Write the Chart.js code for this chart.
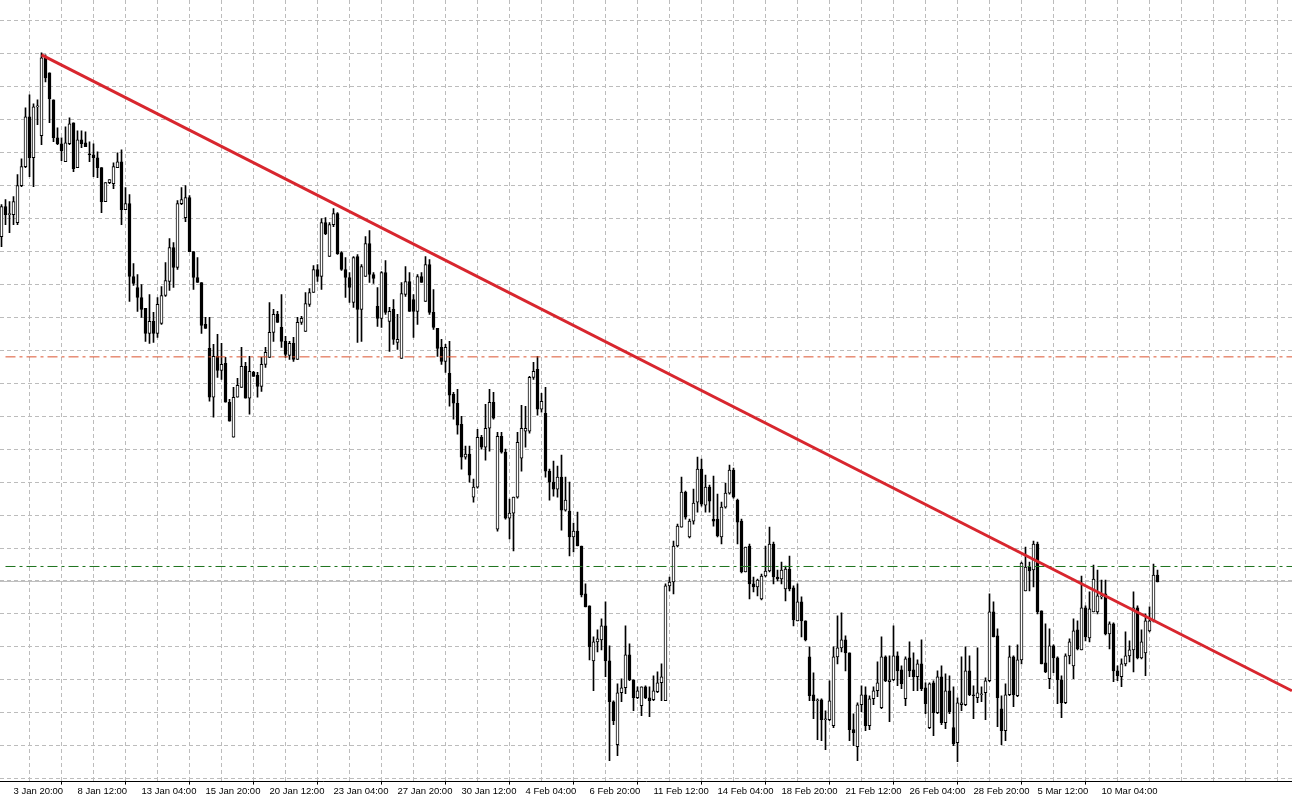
<!DOCTYPE html>
<html>
<head>
<meta charset="utf-8">
<title>H4 candles with trend line</title>
<script src="https://cdn.jsdelivr.net/npm/chart.js@4.4.1/dist/chart.umd.min.js"></script>
<style>
    html, body { margin: 0; padding: 0; background: #fff; }
    #wrap { width: 1292px; height: 803px; position: relative; }
</style>
</head>
<body>
<div id="wrap"><canvas id="priceChart"></canvas></div>
<script>
// H4 bars, prices in points, one entry per bar
const opens = [
    543, 573, 566, 565, 557, 594, 613, 663, 622, 673,
    644, 722, 707, 680, 642, 636, 618, 636, 657, 612,
    640, 637, 626, 625, 622, 612, 578, 597, 596, 612,
    618, 570, 576, 503, 492, 482, 471, 446, 458, 446,
    456, 484, 498, 532, 512, 576, 562, 582, 528, 502,
    497, 455, 431, 382, 423, 409, 416, 377, 342, 382,
    392, 413, 381, 407, 404, 393, 415, 422, 447, 465,
    452, 438, 424, 436, 420, 457, 448, 475, 487, 510,
    503, 557, 523, 555, 566, 527, 510, 502, 477, 523,
    470, 503, 536, 505, 473, 461, 507, 458, 470, 437,
    421, 485, 498, 480, 468, 503, 478, 515, 467, 451,
    432, 418, 406, 385, 376, 355, 322, 325, 282, 292,
    342, 332, 351, 377, 250, 343, 327, 261, 266, 282,
    321, 348, 348, 402, 410, 370, 366, 308, 297, 290,
    302, 269, 268, 242, 248, 233, 185, 173, 118, 137,
    139, 153, 118, 77, 34, 86, 91, 124, 99, 81,
    73, 92, 81, 79, 87, 96, 78, 193, 197, 233,
    252, 287, 242, 258, 277, 310, 274, 292, 260, 260,
    242, 272, 286, 309, 279, 258, 207, 233, 195, 192,
    180, 203, 208, 235, 202, 200, 190, 210, 191, 158,
    177, 158, 122, 84, 79, 79, 60, 59, 53, 122,
    131, 139, 126, 49, 32, 74, 84, 53, 80, 88,
    71, 122, 97, 99, 123, 109, 80, 121, 109, 102,
    115, 91, 51, 96, 66, 102, 56, 88, 51, 36,
    74, 74, 108, 84, 81, 85, 86, 98, 167, 143,
    70, 48, 84, 122, 83, 119, 188, 212, 209, 235,
    168, 116, 100, 133, 121, 99, 76, 123, 113, 149,
    129, 171, 141, 167, 167, 183, 185, 145, 155, 108,
    102, 115, 123, 129, 171, 121, 126, 148, 158, 204
];
const highs = [
    575, 580, 578, 583, 605, 621, 672, 685, 676, 680,
    727, 725, 707, 680, 652, 642, 653, 662, 657, 649,
    649, 648, 638, 636, 628, 612, 597, 600, 617, 627,
    630, 592, 585, 516, 505, 495, 471, 485, 467, 482,
    493, 517, 541, 537, 579, 592, 594, 584, 528, 522,
    497, 462, 462, 435, 445, 436, 422, 380, 392, 401,
    432, 417, 423, 408, 407, 422, 432, 477, 470, 468,
    485, 443, 438, 442, 462, 463, 487, 491, 514, 515,
    561, 562, 557, 571, 567, 528, 522, 507, 523, 525,
    515, 543, 549, 507, 492, 508, 519, 472, 480, 465,
    497, 513, 507, 485, 505, 507, 523, 520, 490, 451,
    440, 435, 438, 387, 390, 363, 333, 333, 300, 350,
    344, 375, 390, 387, 347, 347, 330, 280, 282, 347,
    374, 373, 403, 417, 423, 386, 392, 310, 318, 313,
    324, 302, 297, 256, 267, 233, 195, 173, 142, 149,
    160, 177, 133, 78, 95, 100, 153, 135, 99, 92,
    92, 93, 92, 103, 107, 115, 195, 202, 238, 255,
    302, 288, 260, 290, 322, 320, 304, 294, 303, 285,
    277, 296, 314, 311, 280, 260, 232, 235, 202, 200,
    205, 233, 252, 237, 209, 217, 213, 223, 193, 195,
    182, 158, 132, 106, 80, 80, 68, 98, 132, 163,
    166, 143, 126, 65, 76, 93, 92, 83, 92, 117,
    142, 123, 123, 153, 127, 113, 122, 137, 126, 119,
    139, 96, 96, 98, 108, 113, 105, 103, 92, 81,
    122, 132, 123, 93, 131, 92, 101, 185, 177, 150,
    83, 95, 133, 123, 134, 217, 232, 217, 238, 237,
    168, 155, 150, 134, 122, 103, 125, 140, 160, 158,
    203, 173, 187, 214, 209, 199, 199, 157, 156, 113,
    120, 147, 138, 187, 173, 149, 165, 172, 215, 209
];
const lows = [
    533, 555, 547, 555, 555, 593, 612, 603, 593, 655,
    635, 698, 657, 638, 635, 619, 618, 635, 608, 612,
    632, 633, 618, 603, 602, 567, 578, 596, 591, 612,
    555, 570, 478, 494, 468, 462, 438, 436, 437, 442,
    455, 483, 489, 492, 510, 575, 558, 528, 490, 497,
    446, 451, 378, 362, 402, 400, 377, 358, 342, 382,
    392, 381, 365, 403, 382, 388, 412, 422, 438, 457,
    432, 422, 420, 418, 420, 455, 448, 473, 487, 498,
    490, 545, 523, 553, 525, 509, 482, 477, 472, 437,
    438, 503, 497, 496, 453, 452, 465, 428, 435, 430,
    421, 483, 468, 442, 455, 497, 478, 465, 450, 423,
    415, 407, 373, 360, 345, 310, 320, 297, 277, 291,
    330, 319, 328, 360, 248, 326, 260, 240, 228, 281,
    308, 332, 346, 400, 364, 367, 302, 279, 283, 282,
    249, 268, 223, 227, 233, 182, 172, 119, 88, 127,
    129, 102, 18, 54, 23, 77, 85, 98, 68, 80,
    63, 80, 62, 78, 86, 78, 78, 188, 185, 232,
    252, 260, 241, 255, 267, 273, 267, 267, 253, 242,
    235, 271, 285, 281, 235, 206, 207, 180, 187, 183,
    179, 202, 207, 195, 198, 195, 178, 188, 153, 158,
    142, 138, 78, 60, 39, 38, 29, 58, 51, 115,
    127, 108, 38, 33, 18, 67, 48, 49, 74, 82,
    70, 97, 57, 98, 93, 90, 73, 102, 88, 88,
    88, 65, 50, 43, 65, 54, 50, 65, 33, 17,
    68, 73, 83, 60, 76, 77, 59, 97, 142, 52,
    34, 38, 83, 72, 82, 115, 188, 188, 192, 165,
    115, 106, 90, 106, 75, 61, 75, 115, 100, 129,
    129, 138, 137, 167, 165, 180, 144, 130, 97, 98,
    92, 113, 117, 107, 120, 120, 103, 147, 157, 197
];
const closes = [
    573, 565, 566, 578, 594, 613, 663, 622, 673, 674,
    722, 702, 681, 642, 636, 629, 637, 656, 611, 640,
    636, 633, 625, 622, 612, 578, 597, 600, 613, 618,
    570, 576, 503, 496, 482, 470, 446, 458, 446, 475,
    484, 499, 532, 512, 576, 580, 582, 528, 502, 497,
    454, 451, 382, 423, 409, 415, 377, 358, 382, 394,
    413, 381, 408, 403, 393, 415, 427, 447, 465, 457,
    438, 425, 436, 420, 457, 461, 476, 487, 510, 503,
    557, 546, 555, 566, 526, 510, 502, 492, 522, 470,
    513, 536, 505, 501, 461, 507, 467, 468, 440, 440,
    486, 498, 468, 468, 503, 497, 515, 467, 452, 431,
    418, 432, 384, 376, 354, 322, 325, 304, 292, 342,
    332, 351, 377, 361, 343, 327, 261, 266, 282, 337,
    351, 351, 402, 408, 370, 378, 308, 297, 290, 302,
    269, 279, 242, 248, 233, 184, 172, 132, 137, 140,
    153, 118, 77, 58, 86, 91, 124, 99, 81, 88,
    92, 81, 78, 88, 96, 102, 193, 197, 233, 253,
    287, 262, 258, 276, 310, 275, 292, 278, 258, 243,
    272, 286, 309, 282, 257, 207, 232, 195, 192, 199,
    203, 208, 235, 202, 200, 209, 210, 190, 159, 177,
    158, 139, 83, 78, 79, 59, 60, 78, 122, 131,
    139, 126, 49, 46, 74, 84, 53, 80, 88, 96,
    122, 98, 99, 123, 108, 95, 120, 108, 102, 115,
    90, 75, 95, 66, 102, 56, 88, 67, 35, 76,
    76, 108, 84, 83, 86, 85, 98, 167, 142, 81,
    48, 84, 122, 84, 119, 216, 212, 208, 235, 167,
    115, 107, 133, 121, 99, 76, 123, 137, 148, 130,
    171, 142, 170, 200, 183, 183, 145, 155, 108, 103,
    115, 123, 129, 171, 121, 137, 158, 158, 204, 197
];

// time axis labels, one every 16 bars starting at bar 3
const tickLabels = [
    '3 Jan 20:00', '8 Jan 12:00', '13 Jan 04:00', '15 Jan 20:00', '20 Jan 12:00',
    '23 Jan 04:00', '27 Jan 20:00', '30 Jan 12:00', '4 Feb 04:00', '6 Feb 20:00',
    '11 Feb 12:00', '14 Feb 04:00', '18 Feb 20:00', '21 Feb 12:00', '26 Feb 04:00',
    '28 Feb 20:00', '5 Mar 12:00', '10 Mar 04:00'
];
const firstLabelBar = 3;
const barsPerLabel = 16;
const barsPerGrid = 8;

// horizontal levels and the trend line
const resistanceLevel = 422.5;
const supportLevel = 212.5;
const bidLevel = 197.5;
const levelStartBar = 1;
const trendStart = { bar: 10, price: 725 };
const trendEnd = { bar: 322.6, price: 88 };

// visible window
const xMin = -0.375;
const xMax = 322.625;
const yMin = -3;
const yMax = 780;
const yGridStep = 33;

document.addEventListener('DOMContentLoaded', () => {
    drawChart();
});

function labelFor(value) {
    const j = (value - firstLabelBar) / barsPerLabel;
    return Number.isInteger(j) && j >= 0 && j < tickLabels.length ? tickLabels[j] : '';
}

function drawChart() {
    const bodies = opens.map((o, i) => ({ x: i, y: [Math.min(o, closes[i]), Math.max(o, closes[i])] }));
    const wicks = lows.map((l, i) => ({ x: i, y: [l, highs[i]] }));
    const bodyColors = opens.map((o, i) => closes[i] >= o ? '#ffffff' : '#000000');

    const gridBars = [];
    for (let b = firstLabelBar; b <= xMax; b += barsPerGrid) gridBars.push(b);

    const ctx = document.getElementById('priceChart').getContext('2d');

    new Chart(ctx, {
        type: 'bar',
        data: {
            datasets: [
                {
                    type: 'line',
                    label: 'Trend',
                    data: [{ x: trendStart.bar, y: trendStart.price }, { x: trendEnd.bar, y: trendEnd.price }],
                    borderColor: '#d8262e',
                    borderWidth: 3,
                    pointRadius: 0,
                    order: 1
                },
                {
                    type: 'line',
                    label: 'Resistance',
                    data: [{ x: levelStartBar, y: resistanceLevel }, { x: xMax, y: resistanceLevel }],
                    borderColor: '#dc5430',
                    borderWidth: 1,
                    borderDash: [10, 4, 3, 4],
                    pointRadius: 0,
                    order: 2
                },
                {
                    type: 'line',
                    label: 'Support',
                    data: [{ x: levelStartBar, y: supportLevel }, { x: xMax, y: supportLevel }],
                    borderColor: '#1f741f',
                    borderWidth: 1,
                    borderDash: [10, 4, 3, 4],
                    pointRadius: 0,
                    order: 2
                },
                {
                    label: 'Body',
                    data: bodies,
                    backgroundColor: bodyColors,
                    borderColor: '#000000',
                    borderWidth: 1,
                    borderSkipped: false,
                    barThickness: 3,
                    minBarLength: 1,
                    grouped: false,
                    order: 4
                },
                {
                    label: 'Wick',
                    data: wicks,
                    backgroundColor: '#000000',
                    borderWidth: 0,
                    barThickness: 1,
                    grouped: false,
                    order: 5
                },
                {
                    type: 'line',
                    label: 'Bid',
                    data: [{ x: xMin, y: bidLevel }, { x: xMax, y: bidLevel }],
                    borderColor: '#bdbdbd',
                    borderWidth: 1,
                    pointRadius: 0,
                    order: 10
                }
            ]
        },
        options: {
            responsive: true,
            maintainAspectRatio: false,
            animation: false,
            layout: { padding: { left: 0, right: 0, top: 0, bottom: 5 } },
            plugins: {
                legend: { display: false },
                tooltip: { enabled: false }
            },
            scales: {
                x: {
                    type: 'linear',
                    min: xMin,
                    max: xMax,
                    offset: false,
                    afterBuildTicks: axis => {
                        axis.ticks = gridBars.map(v => ({ value: v }));
                    },
                    ticks: {
                        autoSkip: false,
                        maxRotation: 0,
                        minRotation: 0,
                        align: 'start',
                        padding: 1,
                        color: '#000000',
                        font: { family: 'Liberation Sans', size: 9.5 },
                        callback: value => labelFor(value)
                    },
                    grid: {
                        color: '#bcbcbc',
                        lineWidth: 1,
                        tickLength: 3,
                        tickColor: c => (c.tick && labelFor(c.tick.value)) ? '#000000' : 'rgba(0,0,0,0)'
                    },
                    border: { display: true, color: '#000000', width: 1, dash: [4, 3] }
                },
                y: {
                    min: yMin,
                    max: yMax,
                    position: 'right',
                    ticks: { display: false, stepSize: yGridStep, includeBounds: false },
                    grid: { color: '#bcbcbc', lineWidth: 1, drawTicks: false },
                    border: { display: false, dash: [4, 3] }
                }
            }
        }
    });
}
</script>
</body>
</html>
